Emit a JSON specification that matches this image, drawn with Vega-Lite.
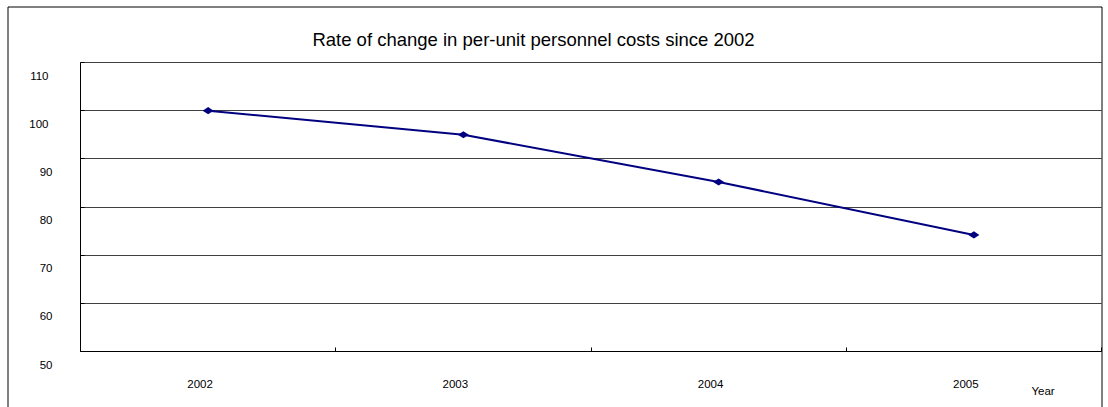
{
  "$schema": "https://vega.github.io/schema/vega-lite/v6.json",
  "width": 1094,
  "height": 410,
  "autosize": {"type": "none"},
  "padding": {"left": 7.5, "top": 6.5, "right": 6, "bottom": 0},
  "background": "white",
  "title": {
    "text": "Rate of change in per-unit personnel costs since 2002",
    "font": "Liberation Sans",
    "fontSize": 18.5,
    "fontWeight": "normal",
    "color": "#000000",
    "anchor": "middle",
    "baseline": "alphabetic",
    "offset": 0,
    "dx": -21,
    "dy": 57.5
  },
  "data": {
    "values": [
      {"year": "2002", "index": 100.0},
      {"year": "2003", "index": 95.0},
      {"year": "2004", "index": 85.2},
      {"year": "2005", "index": 74.2}
    ]
  },
  "encoding": {
    "x": {
      "field": "year",
      "type": "ordinal",
      "scale": {"type": "band", "range": [73, 1094], "paddingInner": 0, "paddingOuter": 0},
      "axis": {
        "orient": "bottom",
        "offset": -65,
        "labelAngle": 0,
        "tickBand": "extent",
        "tickSize": -4,
        "labelPadding": 31,
        "labelOffset": -8,
        "grid": false,
        "title": "Year",
        "titleX": 1035.5,
        "titleY": 40.5,
        "titleAlign": "center",
        "titleBaseline": "middle",
        "titleAnchor": null
      }
    },
    "y": {
      "field": "index",
      "type": "quantitative",
      "scale": {"domain": [50, 110], "range": [345, 56], "nice": false, "zero": false},
      "axis": {
        "orient": "left",
        "offset": -73,
        "values": [50, 60, 70, 80, 90, 100, 110],
        "grid": true,
        "tickSize": -4,
        "labelOffset": 14,
        "labelPadding": {"condition": {"test": "datum.value >= 100", "value": 36}, "value": 32},
        "title": null
      }
    }
  },
  "layer": [
    {
      "mark": {"type": "line", "color": "#000080", "strokeWidth": 2}
    },
    {
      "mark": {
        "type": "point",
        "shape": "M-1,0L0,-0.65L1,0L0,0.65Z",
        "size": 121,
        "filled": true,
        "opacity": 1,
        "color": "#000080"
      }
    }
  ],
  "config": {
    "view": {"stroke": "#000000", "strokeWidth": 1},
    "axis": {
      "translate": 0,
      "domainColor": "#000000",
      "domainWidth": 1,
      "tickColor": "#000000",
      "tickWidth": 1,
      "gridColor": "#000000",
      "gridWidth": 1,
      "gridOpacity": 0.75,
      "labelFont": "Liberation Sans",
      "labelFontSize": 11.5,
      "labelColor": "#000000",
      "titleFont": "Liberation Sans",
      "titleFontSize": 11.5,
      "titleFontWeight": "normal",
      "titleColor": "#000000"
    }
  }
}
